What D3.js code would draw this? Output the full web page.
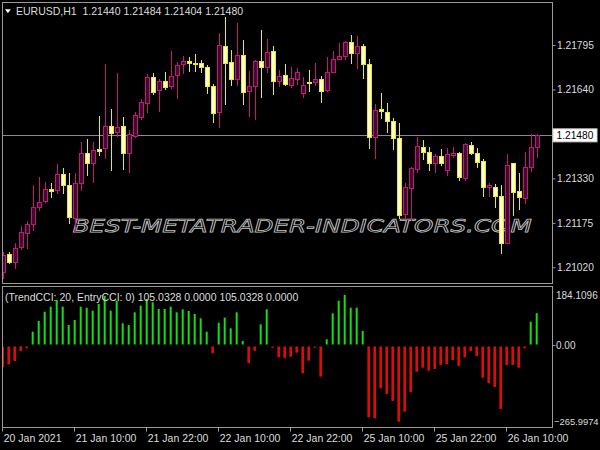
<!DOCTYPE html>
<html><head><meta charset="utf-8">
<script src="https://cdn.jsdelivr.net/npm/d3@7"></script>
<style>html,body{margin:0;padding:0;background:#000;} svg{display:block}</style>
</head><body>
<svg id="c" width="600" height="450"></svg>
<script>
const symbolTitle = "EURUSD,H1";
const headerOHLC = ["1.21440","1.21484","1.21404","1.21480"];
const indicatorTitle = "(TrendCCI: 20, EntryCCI: 0)";
const indicatorValues = ["105.0328","0.0000","105.0328","0.0000"];
const tickIndex = [0,12,24,36,48,60,72,84];
const tickLabels = ["20 Jan 2021","21 Jan 10:00","21 Jan 22:00","22 Jan 10:00","22 Jan 22:00","25 Jan 10:00","25 Jan 22:00","26 Jan 10:00"];
const priceTicks = [1.21795,1.21640,1.21330,1.21175,1.21020];
const currentPrice = 1.21480;
const cciTicks = [184.1096,0,-265.9974];

const open = [1.21004,1.21066,1.21037,1.21090,1.21141,1.21170,1.21229,1.21252,1.21294,1.21290,
1.21344,1.21307,1.21191,1.21313,1.21419,1.21385,1.21431,1.21436,1.21513,1.21493,
1.21513,1.21419,1.21478,1.21545,1.21594,1.21684,1.21638,1.21669,1.21652,1.21690,
1.21728,1.21739,1.21733,1.21733,1.21719,1.21652,1.21562,1.21792,1.21737,1.21676,
1.21760,1.21636,1.21652,1.21739,1.21719,1.21774,1.21669,1.21690,1.21655,1.21676,
1.21627,1.21667,1.21667,1.21675,1.21638,1.21700,1.21746,1.21758,1.21804,1.21768,
1.21792,1.21728,1.21473,1.21572,1.21562,1.21531,1.21470,1.21205,1.21295,1.21362,
1.21440,1.21423,1.21383,1.21408,1.21359,1.21411,1.21419,1.21330,1.21446,1.21417,
1.21391,1.21299,1.21301,1.21269,1.21106,1.21383,1.21287,1.21263,1.21371,1.21440];
const high = [1.21073,1.21074,1.21104,1.21164,1.21182,1.21307,1.21334,1.21318,1.21313,1.21379,
1.21367,1.21350,1.21348,1.21458,1.21466,1.21458,1.21548,1.21729,1.21573,1.21698,
1.21545,1.21499,1.21562,1.21608,1.21694,1.21698,1.21675,1.21702,1.21774,1.21737,
1.21758,1.21752,1.21764,1.21743,1.21725,1.21659,1.21836,1.21894,1.21778,1.21871,
1.21812,1.21705,1.21743,1.21847,1.21815,1.21792,1.21708,1.21729,1.21719,1.21714,
1.21682,1.21708,1.21733,1.21687,1.21752,1.21774,1.21803,1.21809,1.21830,1.21826,
1.21797,1.21745,1.21588,1.21627,1.21592,1.21539,1.21522,1.21313,1.21371,1.21475,
1.21464,1.21440,1.21415,1.21431,1.21435,1.21438,1.21423,1.21452,1.21458,1.21435,
1.21397,1.21315,1.21309,1.21307,1.21415,1.21385,1.21348,1.21423,1.21485,1.21484];
const low = [1.20983,1.21034,1.21019,1.21084,1.21086,1.21150,1.21220,1.21249,1.21266,1.21278,
1.21278,1.21173,1.21144,1.21290,1.21342,1.21318,1.21411,1.21400,1.21359,1.21478,
1.21362,1.21353,1.21473,1.21536,1.21560,1.21623,1.21566,1.21641,1.21644,1.21611,
1.21696,1.21705,1.21705,1.21702,1.21627,1.21528,1.21510,1.21588,1.21655,1.21655,
1.21589,1.21548,1.21537,1.21615,1.21702,1.21624,1.21652,1.21655,1.21647,1.21659,
1.21613,1.21636,1.21655,1.21597,1.21634,1.21700,1.21746,1.21746,1.21733,1.21714,
1.21681,1.21435,1.21400,1.21539,1.21493,1.21432,1.21191,1.21191,1.21185,1.21353,
1.21397,1.21359,1.21353,1.21377,1.21342,1.21406,1.21324,1.21324,1.21415,1.21371,
1.21269,1.21269,1.21229,1.21071,1.21104,1.21202,1.21222,1.21243,1.21357,1.21404];
const close = [1.21063,1.21038,1.21086,1.21142,1.21170,1.21231,1.21249,1.21292,1.21287,1.21344,
1.21307,1.21194,1.21313,1.21417,1.21385,1.21429,1.21426,1.21513,1.21489,1.21510,
1.21419,1.21485,1.21551,1.21596,1.21682,1.21632,1.21669,1.21647,1.21687,1.21725,
1.21739,1.21731,1.21728,1.21719,1.21652,1.21559,1.21795,1.21733,1.21676,1.21760,
1.21632,1.21652,1.21739,1.21719,1.21772,1.21671,1.21688,1.21658,1.21679,1.21702,
1.21655,1.21664,1.21675,1.21636,1.21700,1.21746,1.21757,1.21804,1.21766,1.21793,
1.21728,1.21473,1.21568,1.21565,1.21530,1.21470,1.21202,1.21299,1.21365,1.21443,
1.21423,1.21383,1.21408,1.21385,1.21415,1.21419,1.21336,1.21450,1.21417,1.21388,
1.21299,1.21307,1.21269,1.21106,1.21377,1.21284,1.21266,1.21371,1.21440,1.21480];
const cci = [-70.8,-61.0,-50.3,-17.9,-9.1,44.8,79.5,109.7,126.0,147.7,
126.0,66.6,82.8,126.0,122.7,113.0,134.7,160.7,113.0,145.5,
72.1,66.6,107.8,129.2,151.0,140.3,118.5,118.5,126.0,107.8,
117.5,112.0,102.3,88.3,44.8,-25.3,74.0,90.3,55.8,107.8,
14.6,-57.8,-16.9,68.8,117.5,-7.1,-38.3,-41.6,-36.4,-23.4,
-90.3,-49.4,-7.1,-101.3,20.1,104.5,145.5,164.0,122.7,122.7,
47.1,-233.1,-236.4,-139.0,-157.5,-180.2,-247.4,-215.0,-152.0,-85.1,
-72.1,-81.8,-76.3,-63.3,-61.0,-47.1,-66.6,-38.3,-17.9,-34.1,
-104.5,-122.7,-134.7,-206.2,-63.3,-63.3,-72.1,-9.1,77.3,105.0328];

const svg = d3.select("#c");
const FONT = "Liberation Sans, Arial, sans-serif";
const TXT = "#dcdcdc";
const FRAME = "#9a9a9a";
const UPC = "#c8157e", UPF = "#3e0c2e";
const DNC = "#eeee00", DNF = "#ffffd8";

const L = 2.5, R = 552.5, T1 = 2.5, B1 = 283.5, T2 = 286.5, B2 = 427.5;
const n = open.length;
const x = d3.scaleLinear().domain([0, n - 1]).range([2.7, 536.7]);
const y = d3.scaleLinear().domain([1.21020, 1.21795]).range([267.3, 45]);
const yc = d3.scaleLinear().domain([-265.9974, 184.1096]).range([427.4, 288.8]);

svg.append("rect").attr("width", 600).attr("height", 450).attr("fill", "#000");

const defs = svg.append("defs");
defs.append("clipPath").attr("id", "cp1").append("rect")
  .attr("x", L + 0.5).attr("y", T1 + 0.5).attr("width", R - L - 1).attr("height", B1 - T1 - 1);
defs.append("clipPath").attr("id", "cp2").append("rect")
  .attr("x", L + 0.5).attr("y", T2 + 0.5).attr("width", R - L - 1).attr("height", B2 - T2 - 1);

// current price line
svg.append("line").attr("x1", L).attr("x2", R)
  .attr("y1", Math.round(y(currentPrice)) + 0.5).attr("y2", Math.round(y(currentPrice)) + 0.5)
  .attr("stroke", "#8a8a8a").attr("stroke-width", 1);

// watermark
svg.append("text").attr("x", 72.7).attr("y", 231.5)
  .attr("textLength", 459).attr("lengthAdjust", "spacingAndGlyphs")
  .attr("font-family", "DejaVu Sans, sans-serif").attr("font-style", "italic")
  .attr("font-size", 18).attr("fill", "none").attr("stroke", "#c4c4c4").attr("stroke-width", 0.75)
  .text("BEST-METATRADER-INDICATORS.COM");

// candles
const cg = svg.append("g").attr("clip-path", "url(#cp1)").attr("shape-rendering", "crispEdges");
d3.range(n).forEach(i => {
  const up = close[i] >= open[i];
  const cx = Math.round(x(i));
  const col = up ? UPC : DNC;
  cg.append("line").attr("x1", cx + 0.5).attr("x2", cx + 0.5)
    .attr("y1", Math.round(y(high[i]))).attr("y2", Math.round(y(low[i])) + 1)
    .attr("stroke", col).attr("stroke-width", 1);
  const t = Math.round(y(Math.max(open[i], close[i])));
  const b = Math.round(y(Math.min(open[i], close[i])));
  if (b - t < 1) {
    cg.append("rect").attr("x", cx - 2).attr("y", t).attr("width", 5).attr("height", 1.5).attr("fill", col);
  } else {
    cg.append("rect").attr("x", cx - 2 + 0.5).attr("y", t + 0.5).attr("width", 4).attr("height", b - t)
      .attr("fill", up ? UPF : DNF).attr("stroke", col).attr("stroke-width", 1);
  }
});

// histogram
const hg = svg.append("g").attr("clip-path", "url(#cp2)");
const z = yc(0);
d3.range(n).forEach(i => {
  const v = cci[i];
  const cx = x(i);
  if (v >= 0) {
    hg.append("rect").attr("x", cx - 1).attr("width", 2)
      .attr("y", yc(v)).attr("height", Math.max(0.5, z - 1 - yc(v))).attr("fill", "#12e012");
  } else {
    hg.append("rect").attr("x", cx - 1.3).attr("width", 2.6)
      .attr("y", z + 1).attr("height", Math.max(0.8, yc(v) - z - 1)).attr("fill", "#e00a0a");
  }
});

// frames
svg.append("rect").attr("x", L - 0.5).attr("y", T1 - 0.5).attr("width", R - L + 0.5).attr("height", B1 - T1 + 0.5)
  .attr("fill", "none").attr("stroke", FRAME).attr("stroke-width", 1).attr("shape-rendering", "crispEdges");
svg.append("rect").attr("x", L - 0.5).attr("y", T2 - 0.5).attr("width", R - L + 0.5).attr("height", B2 - T2 + 0.5)
  .attr("fill", "none").attr("stroke", FRAME).attr("stroke-width", 1).attr("shape-rendering", "crispEdges");

// price axis
const pa = svg.append("g").attr("transform", `translate(${R},0)`)
  .call(d3.axisRight(y).tickValues(priceTicks).tickSize(3).tickPadding(1.5).tickFormat(d3.format(".5f")));
pa.select(".domain").remove();
pa.selectAll("line").attr("stroke", FRAME);
pa.selectAll("text").attr("fill", TXT).attr("font-family", FONT).attr("font-size", 10.2);

// current price label box
const cy = y(currentPrice);
svg.append("rect").attr("x", R + 0.5).attr("y", cy - 6.5).attr("width", 44).attr("height", 13)
  .attr("fill", "#ffffff").attr("stroke", "#d0d0d0");
svg.append("text").attr("x", R + 4).attr("y", cy + 4).attr("fill", "#000")
  .attr("font-family", FONT).attr("font-size", 10.2).text(d3.format(".5f")(currentPrice));

// indicator axis
const ia = svg.append("g").attr("transform", `translate(${R},0)`)
  .call(d3.axisRight(yc).tickValues(cciTicks).tickSize(3).tickPadding(1.5)
    .tickFormat(d => d === 0 ? "0.00" : d3.format(".4f")(d)));
ia.select(".domain").remove();
ia.selectAll("line").attr("stroke", FRAME).attr("opacity", d => d === 0 ? 1 : 0);
ia.selectAll(".tick").attr("transform", d => {
  let yy = yc(d);
  if (d > 100) yy = 295.7;
  if (d < -100) yy = 421.7;
  return `translate(0,${yy})`;
});
ia.selectAll("text").attr("fill", TXT).attr("font-family", FONT)
  .attr("font-size", d => d < 0 ? 9.4 : 10)
  .attr("x", d => d < 0 ? 1.5 : 3.5);

// time axis
const ta = svg.append("g").attr("transform", `translate(0,${B2})`)
  .call(d3.axisBottom(x).tickValues(tickIndex).tickSize(4).tickFormat((d, k) => tickLabels[k]));
ta.select(".domain").remove();
ta.selectAll("line").attr("stroke", FRAME).attr("transform", "translate(-0.7,0)");
ta.selectAll("text").attr("fill", TXT).attr("font-family", FONT).attr("font-size", 10.5)
  .attr("text-anchor", "start").attr("x", 0.5).attr("y", 14.5).attr("dy", null);

// header
svg.append("path").attr("d", "M5,9.3 L10.8,9.3 L7.9,13.3 Z").attr("fill", "#fff");
svg.append("text").attr("x", 16).attr("y", 15).attr("fill", TXT)
  .attr("font-family", FONT).attr("font-size", 10.5).attr("xml:space", "preserve")
  .text(symbolTitle + "  " + headerOHLC.join(" "));
svg.append("text").attr("x", 5).attr("y", 301).attr("fill", TXT)
  .attr("font-family", FONT).attr("font-size", 10.5).attr("xml:space", "preserve")
  .text(indicatorTitle + " " + indicatorValues.join(" "));
</script>
</body></html>
